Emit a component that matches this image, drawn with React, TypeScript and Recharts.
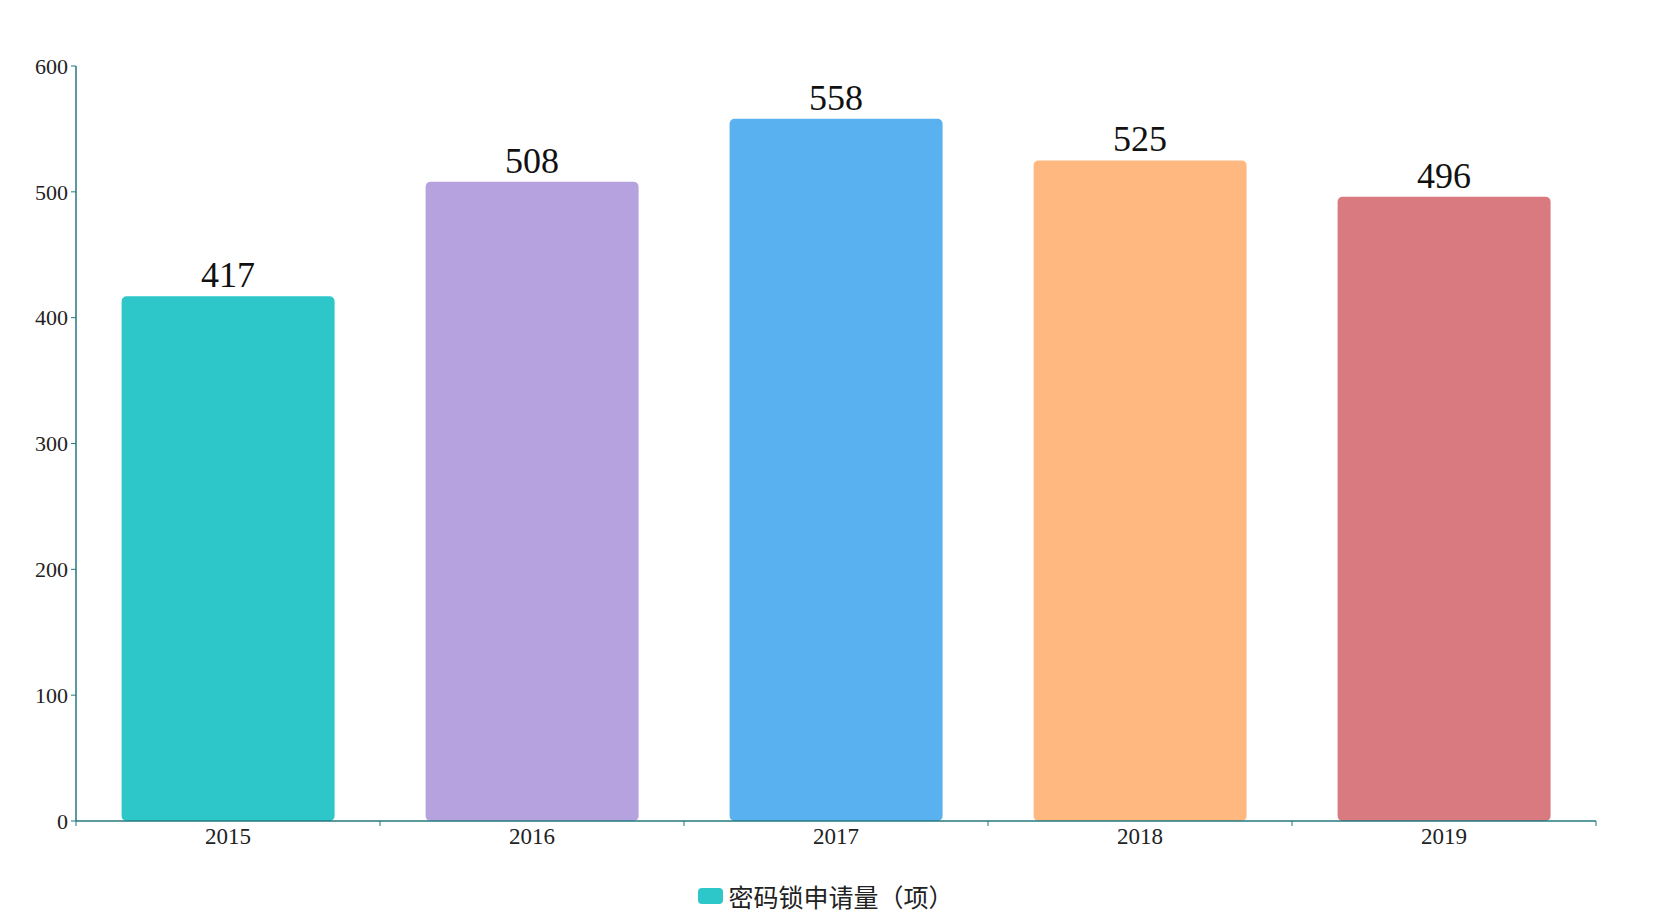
import { BarChart, Bar, XAxis, YAxis, Legend, Cell, LabelList } from "recharts";

const years = ["2015", "2016", "2017", "2018", "2019"];
const counts = [417, 508, 558, 525, 496];
const barColors = ["#2ec7c9", "#b6a2de", "#5ab1ef", "#ffb980", "#d87a80"];
const yTicks = [0, 100, 200, 300, 400, 500, 600];
const seriesName = "密码锁申请量（项）";

const data = years.map((year, i) => ({ year, count: counts[i] }));

const AXIS = "#23797f";
const numFont = "'Liberation Serif', 'DejaVu Serif', serif";
const LABEL_GAP = 7;

const renderLegend = (props: any) => {
  const item = props.payload?.[0];
  if (!item) return null;
  return (
    <div style={{ display: "flex", justifyContent: "center", alignItems: "center", height: 40, paddingRight: 8 }}>
      <div style={{ width: 25, height: 16, borderRadius: 4, background: item.color, marginRight: 5 }} />
      <span style={{ fontFamily: "'Noto Sans CJK SC', sans-serif", fontSize: 25, color: "#222" }}>{item.value}</span>
    </div>
  );
};

// label at the band centre, tick marks on the band edges (echarts style)
const YearTick = (props: any) => {
  const { x, y, payload, index, visibleTicksCount } = props;
  const half = payload.offset || 0;
  const top = y - LABEL_GAP;
  return (
    <g>
      <line x1={x - half} x2={x - half} y1={top} y2={top + 5} stroke={AXIS} />
      {index === visibleTicksCount - 1 && (
        <line x1={x + half} x2={x + half} y1={top} y2={top + 5} stroke={AXIS} />
      )}
      <text x={x} y={y} dy="0.71em" textAnchor="middle" fill="#222" fontSize={23} fontFamily={numFont}>
        {payload.value}
      </text>
    </g>
  );
};

export default function App() {
  return (
    <div style={{ position: "absolute", left: 0, top: 0, width: 1660, height: 916, background: "#fff" }}>
      <BarChart width={1660} height={916} data={data} margin={{ top: 66, right: 64, left: 0, bottom: 0 }} barCategoryGap="15%">
        <XAxis dataKey="year" height={55} tickLine={false} tickSize={0} tickMargin={LABEL_GAP}
          axisLine={{ stroke: AXIS, strokeWidth: 1.5 }} tick={<YearTick />} interval={0} />
        <YAxis domain={[0, 600]} ticks={yTicks} width={76} tickSize={5} tickMargin={3}
          axisLine={{ stroke: AXIS, strokeWidth: 1.5 }} tickLine={{ stroke: AXIS }}
          tick={{ fill: "#222", fontSize: 22, fontFamily: numFont }} />
        <Legend verticalAlign="bottom" content={renderLegend} wrapperStyle={{ left: 0, width: 1660, height: 40 }} />
        <Bar dataKey="count" name={seriesName} fill={barColors[0]} radius={5} isAnimationActive={false}>
          {data.map((d, i) => (
            <Cell key={d.year} fill={barColors[i]} />
          ))}
          <LabelList dataKey="count" position="top" offset={9} fill="#111" fontSize={36} fontFamily={numFont} />
        </Bar>
      </BarChart>
    </div>
  );
}
